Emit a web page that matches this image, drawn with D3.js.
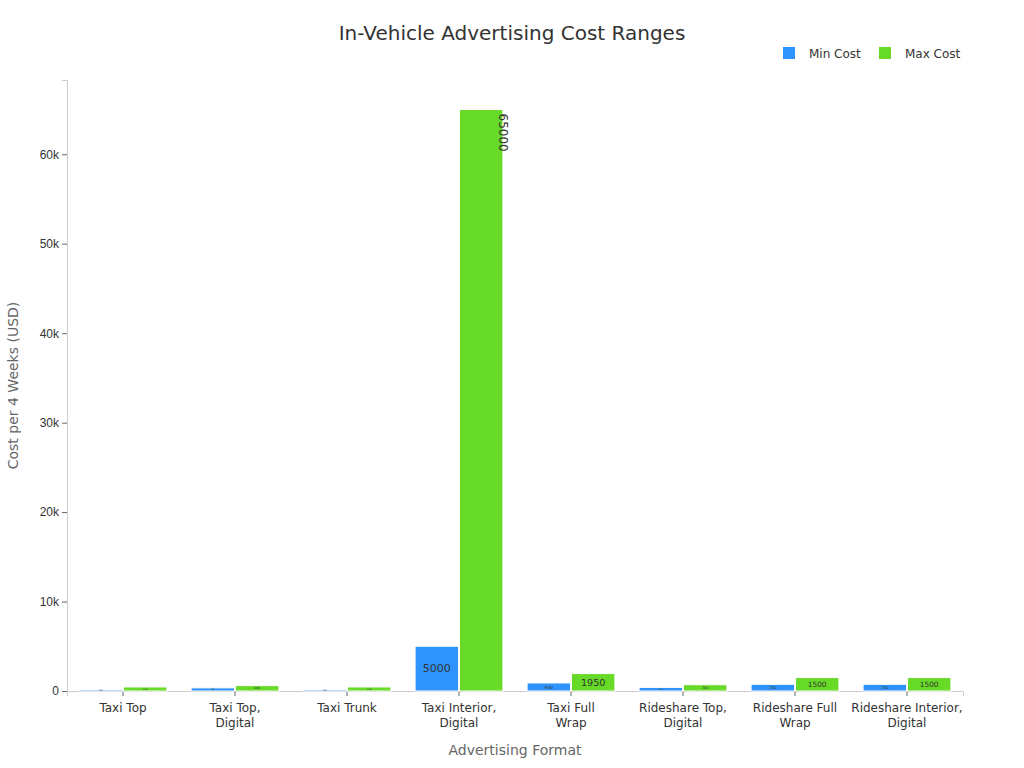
<!DOCTYPE html>
<html><head><meta charset="utf-8">
<script src="https://cdn.jsdelivr.net/npm/d3@7"></script>
<style>body{margin:0;background:#fff;font-family:"DejaVu Sans",sans-serif}</style>
</head><body><svg id="chart" width="1024" height="768"></svg>
<script>
const categories = ["Taxi Top", "Taxi Top, Digital", "Taxi Trunk", "Taxi Interior, Digital", "Taxi Full Wrap", "Rideshare Top, Digital", "Rideshare Full Wrap", "Rideshare Interior, Digital"];
const categoryLines = [["Taxi Top"], ["Taxi Top,", "Digital"], ["Taxi Trunk"], ["Taxi Interior,", "Digital"], ["Taxi Full", "Wrap"], ["Rideshare Top,", "Digital"], ["Rideshare Full", "Wrap"], ["Rideshare Interior,", "Digital"]];
const minCost = [150, 350, 150, 5000, 900, 400, 750, 750];
const maxCost = [450, 600, 450, 65000, 1950, 700, 1500, 1500];
const seriesNames = ["Min Cost", "Max Cost"];
const colors = ["#2e93fa", "#66da26"];

const svg = d3.select("#chart");
const m = {left: 67, right: 963, top: 80, bottom: 691};

const x = d3.scaleBand().domain(categories).range([m.left, m.right]).paddingInner(0.2).paddingOuter(0.1);
const xs = d3.scaleBand().domain(seriesNames).range([0, x.bandwidth()]).padding(0.02);
const y = d3.scaleLinear().domain([0, 68300]).range([m.bottom, m.top]);

svg.append("text").attr("x", 512).attr("y", 40).attr("text-anchor", "middle")
  .attr("font-size", 20).attr("fill", "#333").text("In-Vehicle Advertising Cost Ranges");

// y axis
const ya = svg.append("g").attr("transform", `translate(${m.left},0)`)
  .call(d3.axisLeft(y).tickValues([0,10000,20000,30000,40000,50000,60000]).tickSize(5)
    .tickFormat(d => d === 0 ? "0" : d/1000 + "k"));
ya.select(".domain").attr("stroke", "#ccc");
ya.selectAll(".tick line").attr("stroke", "#666");
ya.selectAll("text").attr("font-size", 12).attr("fill", "#333");

// x axis
const xa = svg.append("g").attr("transform", `translate(0,${m.bottom})`)
  .call(d3.axisBottom(x).tickSize(5).tickFormat(""));
xa.select(".domain").attr("stroke", "#ccc");
xa.selectAll(".tick line").attr("stroke", "#666");
categories.forEach((c, i) => {
  const t = svg.append("text").attr("x", x(c) + x.bandwidth()/2).attr("y", m.bottom + 21)
    .attr("text-anchor", "middle").attr("font-size", 12).attr("fill", "#333");
  categoryLines[i].forEach((l, j) => t.append("tspan").attr("x", x(c) + x.bandwidth()/2).attr("dy", j ? 15 : 0).text(l));
});

svg.append("text").attr("x", (m.left + m.right)/2).attr("y", 755).attr("text-anchor", "middle")
  .attr("font-size", 14).attr("fill", "#666").text("Advertising Format");
svg.append("text").attr("transform", `translate(18,${(m.top+m.bottom)/2 - 0}) rotate(-90)`)
  .attr("text-anchor", "middle").attr("font-size", 14).attr("fill", "#666").text("Cost per 4 Weeks (USD)");

// bars
const series = [minCost, maxCost];
series.forEach((vals, s) => {
  const g = svg.append("g");
  g.selectAll("rect").data(vals).join("rect")
    .attr("x", (d, i) => x(categories[i]) + xs(seriesNames[s]))
    .attr("y", d => y(d)).attr("width", xs.bandwidth())
    .attr("height", d => y(0) - y(d)).attr("fill", colors[s])
    .attr("stroke", "#fff").attr("stroke-width", 1);
  vals.forEach((d, i) => {
    const bx = x(categories[i]) + xs(seriesNames[s]), w = xs.bandwidth();
    const h = y(0) - y(d);
    if (h > 200) {
      svg.append("text").attr("transform", `translate(${bx + w/2 + 18},${y(d) + 4}) rotate(90)`)
        .attr("font-size", 12).attr("fill", "#333").text(d);
    } else {
      const fs = Math.max(2, Math.min(11, h * 0.55));
      svg.append("text").attr("x", bx + w/2).attr("y", y(d) + h/2 + fs*0.35)
        .attr("text-anchor", "middle").attr("font-size", fs).attr("fill", "#333").text(d);
    }
  });
});

// legend
seriesNames.forEach((n, i) => {
  const lx = [783, 879][i];
  svg.append("rect").attr("x", lx).attr("y", 47).attr("width", 12).attr("height", 12).attr("fill", colors[i]);
  svg.append("text").attr("x", lx + 26).attr("y", 58).attr("font-size", 12).attr("fill", "#333").text(n);
});
</script></body></html>
